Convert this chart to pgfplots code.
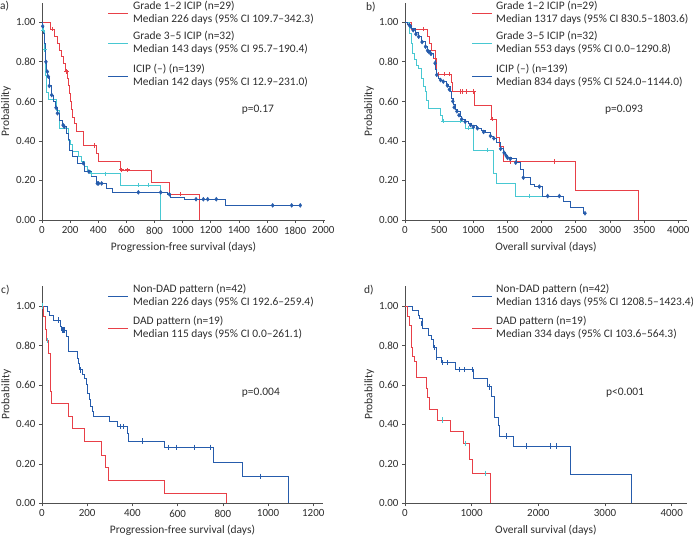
\documentclass[border=0pt]{standalone}
\usepackage{fontspec}
\setmainfont{Carlito}
\usepackage{pgfplots}
\pgfplotsset{compat=1.18}
\definecolor{kmred}{RGB}{232,64,72}
\definecolor{kmcyan}{RGB}{72,200,210}
\definecolor{kmblue}{RGB}{38,92,172}
\definecolor{txt}{RGB}{45,45,45}
\definecolor{axc}{RGB}{80,80,80}
\pgfplotsset{
 km/.style={
  scale only axis, anchor=south west,
  axis x line*=bottom, axis y line*=left,
  axis line style={axc, line width=0.7bp},
  tick style={axc, line width=0.7bp},
  tick align=outside, major tick length=3bp,
  ymin=0, ymax=1.1, ytick={0,0.2,0.4,0.6,0.8,1},
  yticklabel style={/pgf/number format/fixed, /pgf/number format/fixed zerofill, /pgf/number format/precision=2},
  /pgf/number format/1000 sep={},
  /pgf/number format/assume math mode=true,
  ticklabel style={font=\fontsize{11}{12}\selectfont, text=txt},
  label style={font=\fontsize{11.5}{12}\selectfont, text=txt},
  ylabel=Probability,
  ylabel style={at={(axis description cs:-0.127,0.5)}, anchor=center},
  xlabel style={at={(axis description cs:0.5,0)}, anchor=center, yshift=-27bp},
 },
 kml/.style={const plot, no marks, line width=0.9bp},
 cplus/.style={only marks, mark=+, mark size=2.2bp, mark options={line width=1bp}, forget plot},
 cdia/.style={only marks, mark=diamond*, mark size=2bp, forget plot},
 cbar/.style={only marks, mark=|, mark size=2.6bp, mark options={line width=0.7bp}, forget plot},
}
\newcommand{\legtxt}[2]{\node[anchor=west, align=left, inner sep=0pt, text=txt, font=\fontsize{11.5}{13.5}\selectfont] at #1 {#2};}
\begin{document}
\begin{tikzpicture}
\path[use as bounding box] (0,0) rectangle (693bp,-538bp);
% ---------------- a ----------------
\begin{axis}[km, at={(42bp,-220bp)}, width=283bp, height=217.5bp,
  xmin=0, xmax=2012, xtick={0,200,...,2000},
  xlabel={Progression-free survival (days)}]
\addplot[kml, kmred] coordinates {(0,1)(62,0.965)(92,0.93)(110,0.895)(125,0.86)(140,0.825)(155,0.79)(165,0.755)(182,0.715)(190,0.68)(198,0.64)(204,0.60)(210,0.56)(220,0.52)(228,0.49)(245,0.447)(295,0.376)(390,0.337)(400,0.298)(555,0.253)(780,0.189)(903,0.13)(1118,0)};
\addplot[kml, kmcyan] coordinates {(0,1)(3,0.96)(17,0.86)(28,0.73)(33,0.645)(45,0.61)(105,0.555)(125,0.464)(188,0.40)(205,0.38)(218,0.346)(262,0.32)(282,0.295)(300,0.27)(325,0.25)(345,0.233)(555,0.177)(844,0)};
\addplot[kml, kmblue] coordinates {(0,1)(3,0.98)(12,0.944)(20,0.894)(23,0.85)(25,0.80)(35,0.75)(42,0.725)(50,0.678)(65,0.632)(78,0.60)(98,0.568)(108,0.54)(125,0.506)(145,0.48)(155,0.472)(172,0.44)(185,0.405)(198,0.354)(220,0.32)(255,0.287)(305,0.245)(350,0.22)(390,0.185)(455,0.16)(500,0.14)(895,0.13)(915,0.115)(1015,0.105)(1305,0.074)(1836,0.074)};
\addplot[cplus, kmred] coordinates {(73,0.965)(175,0.752)(370,0.376)(566,0.253)(607,0.253)(988,0.13)};
\addplot[cplus, kmcyan] coordinates {(9,0.96)(21,0.86)(353,0.233)(455,0.233)(685,0.177)(756,0.177)};
\addplot[cdia, kmblue] coordinates {(5,0.98)(28,0.80)(38,0.75)(45,0.725)(52,0.678)(69,0.632)(100,0.568)(110,0.54)(150,0.48)(158,0.472)(294,0.287)(333,0.245)(393,0.185)(402,0.185)(424,0.185)(685,0.14)(844,0.14)(906,0.13)(1095,0.105)(1147,0.105)(1178,0.105)(1239,0.105)(1640,0.074)(1775,0.074)(1836,0.074)};
\node[text=txt, font=\fontsize{11.5}{12}\selectfont] at (rel axis cs:0.763,0.506) {p=0.17};
\end{axis}
% ---------------- b ----------------
\begin{axis}[km, at={(405bp,-220bp)}, width=282bp, height=217.5bp,
  xmin=0, xmax=4127, xtick={0,500,...,4000},
  xlabel={Overall survival (days)}]
\addplot[kml, kmred] coordinates {(0,1)(98,0.965)(332,0.93)(356,0.894)(390,0.86)(445,0.818)(454,0.784)(463,0.737)(683,0.695)(698,0.65)(1020,0.578)(1259,0.51)(1341,0.42)(1380,0.371)(1440,0.296)(2493,0.148)(3420,0)};
\addplot[kml, kmcyan] coordinates {(0,1)(63,0.978)(70,0.944)(98,0.894)(112,0.843)(132,0.81)(161,0.784)(195,0.767)(244,0.717)(268,0.675)(293,0.65)(317,0.607)(337,0.565)(512,0.53)(541,0.50)(878,0.464)(1000,0.354)(1293,0.236)(1341,0.185)(1610,0.121)(2000,0.121)};
\addplot[kml, kmblue] coordinates {(0,1)(40,0.99)(63,0.986)(98,0.97)(146,0.948)(195,0.927)(244,0.902)(293,0.877)(327,0.857)(366,0.843)(415,0.818)(439,0.793)(449,0.759)(463,0.734)(488,0.717)(522,0.708)(561,0.70)(600,0.688)(634,0.675)(659,0.649)(683,0.616)(707,0.582)(732,0.56)(766,0.548)(805,0.523)(829,0.51)(878,0.497)(927,0.489)(976,0.476)(1049,0.464)(1122,0.452)(1171,0.442)(1244,0.425)(1293,0.413)(1341,0.391)(1390,0.363)(1439,0.341)(1463,0.325)(1488,0.315)(1561,0.309)(1634,0.29)(1683,0.256)(1732,0.214)(1829,0.18)(1900,0.169)(2015,0.121)(2317,0.093)(2415,0.064)(2610,0.034)(2634,0.034)};
\addplot[cplus, kmred] coordinates {(268,0.965)(439,0.818)(488,0.737)(571,0.737)(644,0.737)(815,0.65)(839,0.65)(902,0.65)(1000,0.65)(1283,0.51)(1546,0.296)(2195,0.296)};
\addplot[cplus, kmcyan] coordinates {(561,0.5)(805,0.5)(927,0.464)(1210,0.354)(1829,0.121)};
\addplot[cdia, kmblue] coordinates {(63,0.986)(80,0.98)(120,0.96)(160,0.94)(200,0.927)(250,0.90)(300,0.877)(330,0.857)(350,0.85)(380,0.84)(440,0.793)(465,0.734)(520,0.708)(560,0.70)(620,0.68)(650,0.66)(700,0.60)(720,0.57)(760,0.55)(790,0.53)(830,0.51)(880,0.497)(960,0.48)(1000,0.47)(1060,0.464)(1150,0.445)(1250,0.425)(1300,0.413)(1400,0.36)(1450,0.34)(1480,0.325)(1500,0.315)(1540,0.309)(1620,0.29)(1732,0.214)(1966,0.169)(2088,0.121)(2259,0.121)(2634,0.034)};
\node[text=txt, font=\fontsize{11.5}{12}\selectfont] at (rel axis cs:0.777,0.506) {p=0.093};
\end{axis}
% ---------------- c ----------------
\begin{axis}[km, at={(42bp,-503.3bp)}, width=281bp, height=217bp,
  xmin=0, xmax=1243, xtick={0,200,...,1200},
  xlabel={Progression-free survival (days)}]
\addplot[kml, kmblue] coordinates {(0,1)(22,0.971)(34,0.954)(49,0.929)(81,0.899)(86,0.878)(108,0.845)(115,0.769)(156,0.735)(162,0.71)(167,0.676)(177,0.655)(186,0.633)(196,0.60)(203,0.557)(211,0.524)(215,0.49)(223,0.465)(226,0.439)(299,0.414)(333,0.389)(377,0.355)(383,0.316)(541,0.284)(760,0.208)(885,0.137)(1089,0)};
\addplot[kml, kmred] coordinates {(0,1)(6,0.947)(15,0.88)(20,0.824)(27,0.76)(37,0.566)(41,0.507)(115,0.439)(136,0.38)(189,0.3125)(262,0.245)(282,0.18)(296,0.118)(541,0.051)(817,0)};
\addplot[cbar, kmblue] coordinates {(74,0.929)(88,0.878)(94,0.878)(100,0.878)(171,0.676)(348,0.389)(358,0.389)(444,0.316)(559,0.284)(593,0.284)(672,0.284)(743,0.284)(964,0.137)};
\addplot[cbar, kmcyan] coordinates {(1,1)(22,0.824)};
\node[text=txt, font=\fontsize{11.5}{12}\selectfont] at (rel axis cs:0.779,0.508) {p=0.004};
\end{axis}
% ---------------- d ----------------
\begin{axis}[km, at={(405bp,-503.3bp)}, width=281.7bp, height=217bp,
  xmin=0, xmax=4225, xtick={0,1000,...,4000},
  xlabel={Overall survival (days)}]
\addplot[kml, kmblue] coordinates {(0,1)(115,0.976)(200,0.954)(215,0.9375)(265,0.887)(350,0.853)(400,0.831)(425,0.79)(465,0.738)(550,0.713)(750,0.679)(1025,0.633)(1235,0.59)(1300,0.54)(1335,0.436)(1400,0.397)(1415,0.341)(1625,0.29)(2485,0.144)(3400,0)};
\addplot[kml, kmred] coordinates {(0,1)(35,0.947)(65,0.9)(100,0.79)(115,0.743)(135,0.718)(165,0.684)(175,0.64)(315,0.583)(335,0.537)(360,0.476)(485,0.422)(675,0.363)(875,0.304)(965,0.223)(1010,0.152)(1285,0)};
\addplot[cbar, kmblue] coordinates {(250,0.91)(440,0.79)(465,0.738)(560,0.713)(640,0.713)(815,0.679)(885,0.679)(1015,0.679)(1265,0.59)(1525,0.341)(1815,0.29)(2175,0.29)(2265,0.29)};
\addplot[cbar, kmcyan] coordinates {(560,0.422)(910,0.304)(1200,0.152)};
\node[text=txt, font=\fontsize{11.5}{12}\selectfont] at (rel axis cs:0.781,0.508) {p<0.001};
\end{axis}
% ---------------- legends and panel letters ----------------
\draw[kmred, line width=0.9bp] (108bp,-13bp) -- (128bp,-13bp);
\draw[kmcyan, line width=0.9bp] (108bp,-43bp) -- (128bp,-43bp);
\draw[kmblue, line width=0.9bp] (108bp,-76bp) -- (128bp,-76bp);
\legtxt{(133bp,-13bp)}{Grade 1–2 ICIP (n=29)\\Median 226 days (95\% CI 109.7–342.3)}
\legtxt{(133bp,-43bp)}{Grade 3–5 ICIP (n=32)\\Median 143 days (95\% CI 95.7–190.4)}
\legtxt{(133bp,-76bp)}{ICIP (–) (n=139)\\Median 142 days (95\% CI 12.9–231.0)}
\draw[kmred, line width=0.9bp] (472bp,-13bp) -- (492bp,-13bp);
\draw[kmcyan, line width=0.9bp] (472bp,-43bp) -- (492bp,-43bp);
\draw[kmblue, line width=0.9bp] (472bp,-76bp) -- (492bp,-76bp);
\legtxt{(496bp,-13bp)}{Grade 1–2 ICIP (n=29)\\Median 1317 days (95\% CI 830.5–1803.6)}
\legtxt{(496bp,-43bp)}{Grade 3–5 ICIP (n=32)\\Median 553 days (95\% CI 0.0–1290.8)}
\legtxt{(496bp,-76bp)}{ICIP (–) (n=139)\\Median 834 days (95\% CI 524.0–1144.0)}
\draw[kmblue, line width=0.9bp] (108bp,-296bp) -- (128bp,-296bp);
\draw[kmred, line width=0.9bp] (108bp,-328bp) -- (128bp,-328bp);
\legtxt{(133bp,-296bp)}{Non-DAD pattern (n=42)\\Median 226 days (95\% CI 192.6–259.4)}
\legtxt{(133bp,-328bp)}{DAD pattern (n=19)\\Median 115 days (95\% CI 0.0–261.1)}
\draw[kmblue, line width=0.9bp] (472bp,-296bp) -- (492bp,-296bp);
\draw[kmred, line width=0.9bp] (472bp,-328bp) -- (492bp,-328bp);
\legtxt{(496bp,-296bp)}{Non-DAD pattern (n=42)\\Median 1316 days (95\% CI 1208.5–1423.4)}
\legtxt{(496bp,-328bp)}{DAD pattern (n=19)\\Median 334 days (95\% CI 103.6–564.3)}
\node[anchor=west, inner sep=0pt, text=txt, font=\fontsize{11.5}{12}\selectfont] at (0bp,-6bp) {a)};
\node[anchor=west, inner sep=0pt, text=txt, font=\fontsize{11.5}{12}\selectfont] at (366bp,-7bp) {b)};
\node[anchor=west, inner sep=0pt, text=txt, font=\fontsize{11.5}{12}\selectfont] at (1bp,-290bp) {c)};
\node[anchor=west, inner sep=0pt, text=txt, font=\fontsize{11.5}{12}\selectfont] at (364bp,-290bp) {d)};
\end{tikzpicture}
\end{document}
